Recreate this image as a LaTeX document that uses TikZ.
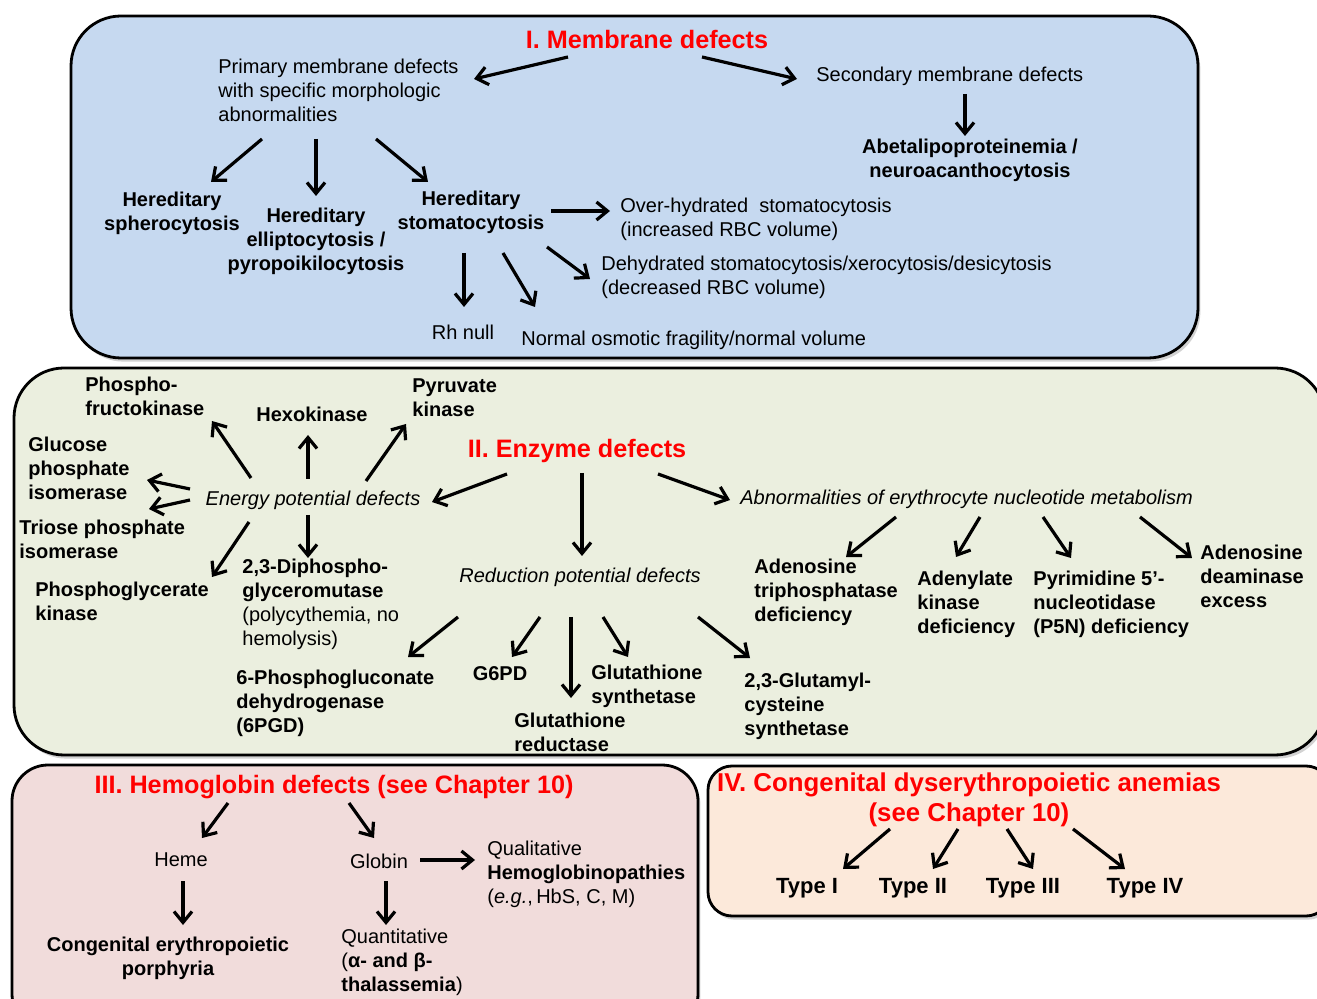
\documentclass[tikz,border=0pt]{standalone}
\usepackage{fontspec}
\setmainfont{Liberation Sans}
\usetikzlibrary{arrows.meta,calc,shadows}
\definecolor{boxI}{RGB}{198,217,240}
\definecolor{boxII}{RGB}{235,239,223}
\definecolor{boxIII}{RGB}{241,220,219}
\definecolor{boxIV}{RGB}{252,233,218}
\definecolor{titlered}{RGB}{255,0,0}
\tikzset{
  base/.style={inner sep=0pt, font=\fontsize{10}{12}\selectfont},
  bt/.style={inner sep=0pt, font=\fontsize{10}{12}\selectfont\bfseries},
  btl/.style={inner sep=0pt, font=\fontsize{11}{13}\selectfont\bfseries},
  itx/.style={inner sep=0pt, font=\fontsize{10}{12}\selectfont\itshape},
  ttl/.style={inner sep=0pt, font=\fontsize{12.6}{15}\selectfont\bfseries, text=titlered},
  arr/.style={line width=1.6pt, -{Straight Barb[length=5.5pt,width=9pt]}},
  panel/.style={draw=black, line width=1.4pt, drop shadow={shadow xshift=1.2pt, shadow yshift=-1.8pt, opacity=0.35}},
}
\begin{document}
\begin{tikzpicture}[x=0.5pt,y=-0.5pt]
\useasboundingbox (0,0) rectangle (1317,999);
\clip (0,0) rectangle (1317,999);
\fill[white] (0,0) rectangle (1317,999);

% panels
\path[panel, fill=boxI, rounded corners=25pt] (71,16) rectangle (1198,358);
\path[panel, fill=boxII, rounded corners=25pt] (14,368) rectangle (1325,755);
\path[panel, fill=boxIII, rounded corners=18pt] (12,765) rectangle (698,1030);
\path[panel, fill=boxIV, rounded corners=12pt] (708,766) rectangle (1330,916);

% ---------- I. Membrane defects
\node[ttl] (t1) at (647,40) {I. Membrane defects};
\node[base, anchor=west, align=left] (prim) at (218,90) {Primary membrane defects\\with specific morphologic\\abnormalities};
\node[base, anchor=west] (sec) at (816,76) {Secondary membrane defects};
\node[bt, align=center] (abeta) at (970,160) {Abetalipoproteinemia /\\neuroacanthocytosis};
\node[bt, align=center] (sphero) at (172,213) {Hereditary\\spherocytosis};
\node[bt, align=center] (ellip) at (316,241) {Hereditary\\elliptocytosis /\\pyropoikilocytosis};
\node[bt, align=center] (stoma) at (471,212) {Hereditary\\stomatocytosis};
\node[base, anchor=west, align=left] (over) at (620,219) {Over-hydrated\ \ stomatocytosis\\(increased RBC volume)};
\node[base, anchor=west, align=left] (dehyd) at (601,277) {Dehydrated stomatocytosis/xerocytosis/desicytosis\\(decreased RBC volume)};
\node[base] (rh) at (463,332) {Rh null};
\node[base, anchor=west] (normal) at (521,340) {Normal osmotic fragility/normal volume};

\draw[arr] ($(t1)+(-79,17)$) -- ($(prim.west)+(256,-11)$);
\draw[arr] ($(t1)+(55,17)$) -- ($(sec.west)+(-19,3)$);
\draw[arr] ($(sec.west)+(149,18)$) -- ($(abeta)+(-5,-24)$);
\draw[arr] ($(prim.west)+(44,49)$) -- ($(sphero)+(39,-31)$);
\draw[arr] ($(prim.west)+(98,49)$) -- ($(ellip)+(0,-45)$);
\draw[arr] ($(prim.west)+(158,49)$) -- ($(stoma)+(-43,-30)$);
\draw[arr] ($(stoma)+(80,-1)$) -- ($(over.west)+(-10,-8)$);
\draw[arr] ($(stoma)+(76,35)$) -- ($(dehyd.west)+(-11,2)$);
\draw[arr] ($(stoma)+(-7,41)$) -- ($(rh)+(1,-25)$);
\draw[arr] ($(stoma)+(32,41)$) -- ($(normal.west)+(14,-33)$);

% ---------- II. Enzyme defects
\node[ttl] (t2) at (577,451) {II. Enzyme defects};
\node[itx] (energy) at (313,500) {Energy potential defects};
\node[itx] (reduc) at (580,577) {Reduction potential defects};
\node[itx, anchor=west] (abn) at (740,499) {Abnormalities of erythrocyte nucleotide metabolism};
\node[bt, anchor=west, align=left] (pfk) at (85,396) {Phospho-\\fructokinase};
\node[bt] (hexo) at (312,414) {Hexokinase};
\node[bt, anchor=west, align=left] (pyr) at (412,398) {Pyruvate\\kinase};
\node[bt, anchor=west, align=left] (gpi) at (28,468) {Glucose\\phosphate\\isomerase};
\node[bt, anchor=west, align=left] (tpi) at (19,539) {Triose phosphate\\isomerase};
\node[bt, anchor=west, align=left] (pgk) at (35,601) {Phosphoglycerate\\kinase};
\node[base, anchor=west, align=left] (dpgm) at (242,604) {\textbf{2,3-Diphospho-}\\\textbf{glyceromutase}\\(polycythemia, no\\hemolysis)};
\node[bt, anchor=west, align=left] (pgd) at (236,703) {6-Phosphogluconate\\dehydrogenase\\(6PGD)};
\node[bt] (g6pd) at (500,674) {G6PD};
\node[bt, anchor=west, align=left] (gr) at (514,732) {Glutathione\\reductase};
\node[bt, anchor=west, align=left] (gs) at (591,686) {Glutathione\\synthetase};
\node[bt, anchor=west, align=left] (glu) at (744,706) {2,3-Glutamyl-\\cysteine\\synthetase};
\node[bt, anchor=west, align=left] (atpase) at (754,592) {Adenosine\\triphosphatase\\deficiency};
\node[bt, anchor=west, align=left] (adk) at (917,604) {Adenylate\\kinase\\deficiency};
\node[bt, anchor=west, align=left] (p5n) at (1033,604) {Pyrimidine 5’-\\nucleotidase\\(P5N) deficiency};
\node[bt, anchor=west, align=left] (ada) at (1200,576) {Adenosine\\deaminase\\excess};

\draw[arr] ($(t2)+(-70,23)$) -- ($(energy)+(119,2)$);
\draw[arr] ($(t2)+(5,22)$) -- ($(reduc)+(2,-21)$);
\draw[arr] ($(t2)+(81,23)$) -- ($(abn.west)+(-10,1)$);
\draw[arr] ($(energy)+(-62,-22)$) -- ($(pfk.west)+(127,25)$);
\draw[arr] ($(energy)+(-5,-21)$) -- ($(hexo)+(-4,21)$);
\draw[arr] ($(energy)+(53,-19)$) -- ($(pyr.west)+(-6,26)$);
\draw[arr] ($(energy)+(-123,-11)$) -- ($(gpi.west)+(119,12)$);
\draw[arr] ($(energy)+(-123,0)$) -- ($(tpi.west)+(130,-30)$);
\draw[arr] ($(energy)+(-64,22)$) -- ($(pgk.west)+(177,-24)$);
\draw[arr] ($(energy)+(-5,15)$) -- ($(dpgm.west)+(66,-46)$);
\draw[arr] ($(reduc)+(-122,40)$) -- ($(pgd.west)+(172,-46)$);
\draw[arr] ($(reduc)+(-40,40)$) -- ($(g6pd)+(12,-17)$);
\draw[arr] ($(reduc)+(-9,40)$) -- ($(gr.west)+(57,-34)$);
\draw[arr] ($(reduc)+(23,40)$) -- ($(gs.west)+(37,-29)$);
\draw[arr] ($(reduc)+(118,40)$) -- ($(glu.west)+(6,-48)$);
\draw[arr] ($(abn.west)+(156,18)$) -- ($(atpase.west)+(92,-35)$);
\draw[arr] ($(abn.west)+(240,18)$) -- ($(adk.west)+(39,-47)$);
\draw[arr] ($(abn.west)+(303,18)$) -- ($(p5n.west)+(38,-46)$);
\draw[arr] ($(abn.west)+(400,18)$) -- ($(ada.west)+(-8,-18)$);

% ---------- III. Hemoglobin defects
\node[ttl] (t3) at (334,787) {III. Hemoglobin defects (see Chapter 10)};
\node[base] (heme) at (181,860) {Heme};
\node[base] (globin) at (379,861) {Globin};
\node[base, anchor=west, align=left] (qual) at (487,874) {Qualitative\\\textbf{Hemoglobinopathies}\\(\textit{e.g.},\,HbS, C, M)};
\node[bt, align=center] (cep) at (168,958) {Congenital erythropoietic\\porphyria};
\node[base, anchor=west, align=left] (quant) at (341,962) {Quantitative\\(\textbf{α- and β-}\\\textbf{thalassemia})};

\draw[arr] ($(t3)+(-106,16)$) -- ($(heme)+(21,-22)$);
\draw[arr] ($(t3)+(15,16)$) -- ($(globin)+(-5,-23)$);
\draw[arr] ($(heme)+(2,21)$) -- ($(cep)+(15,-33)$);
\draw[arr] ($(globin)+(7,20)$) -- ($(quant.west)+(45,-37)$);
\draw[arr] ($(globin)+(41,-1)$) -- ($(qual.west)+(-12,-14)$);

% ---------- IV. Congenital dyserythropoietic anemias
\node[ttl, align=center, font=\fontsize{12.9}{15}\selectfont\bfseries] (t4) at (969,800) {IV. Congenital dyserythropoietic anemias\\(see Chapter 10)};
\node[btl] (ty1) at (807,888) {Type I};
\node[btl] (ty2) at (913,888) {Type II};
\node[btl] (ty3) at (1023,888) {Type III};
\node[btl] (ty4) at (1145,888) {Type IV};

\draw[arr] ($(t4)+(-79,29)$) -- ($(ty1)+(36,-19)$);
\draw[arr] ($(t4)+(-11,29)$) -- ($(ty2)+(20,-19)$);
\draw[arr] ($(t4)+(38,29)$) -- ($(ty3)+(10,-19)$);
\draw[arr] ($(t4)+(104,29)$) -- ($(ty4)+(-20,-19)$);
\end{tikzpicture}
\end{document}
